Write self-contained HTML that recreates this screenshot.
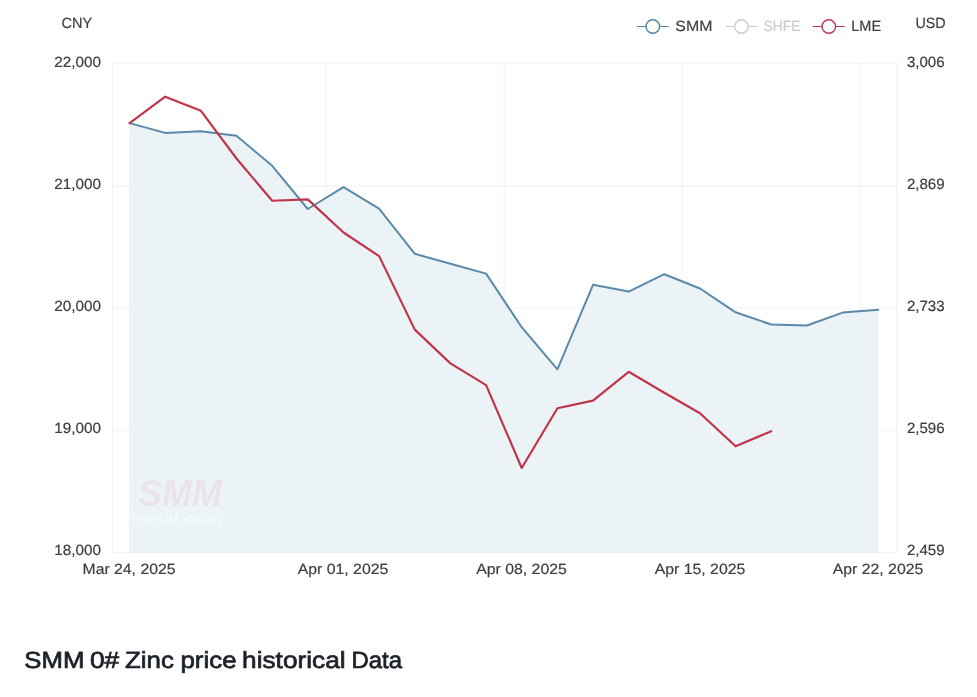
<!DOCTYPE html>
<html lang="en"><head><meta charset="utf-8"><title>SMM 0# Zinc price historical Data</title>
<style>
html,body{margin:0;padding:0;background:#fff;}
body{width:977px;height:697px;overflow:hidden;font-family:"Liberation Sans",sans-serif;}
svg{display:block;position:absolute;left:0;top:0;}
.t{font-family:"Liberation Sans",sans-serif;font-size:14.8px;fill:#3f3f3f;stroke:#3f3f3f;stroke-width:0.2px;text-rendering:geometricPrecision;}
.h{font-family:"Liberation Sans",sans-serif;font-size:23.3px;fill:#1d2129;stroke:#1d2129;stroke-width:0.7px;text-rendering:geometricPrecision;}
</style></head><body>
<svg width="977" height="697" viewBox="0 0 977 697">
<rect x="0" y="0" width="977" height="697" fill="#ffffff"/>
<g stroke="#000000" stroke-opacity="0.045" stroke-width="1.2" fill="none">
<line x1="112.5" y1="63.2" x2="896.9" y2="63.2"/>
<line x1="112.5" y1="186.2" x2="896.9" y2="186.2"/>
<line x1="112.5" y1="308.0" x2="896.9" y2="308.0"/>
<line x1="112.5" y1="430.5" x2="896.9" y2="430.5"/>
<line x1="112.5" y1="552.3" x2="896.9" y2="552.3"/>
<line x1="325.9" y1="63.0" x2="325.9" y2="552.0"/>
<line x1="504.1" y1="63.0" x2="504.1" y2="552.0"/>
<line x1="682.3" y1="63.0" x2="682.3" y2="552.0"/>
<line x1="860.5" y1="63.0" x2="860.5" y2="552.0"/>
</g>
<g stroke="#000000" stroke-opacity="0.06" stroke-width="1.2" fill="none">
<line x1="112.5" y1="63.0" x2="112.5" y2="552.0"/>
<line x1="896.9" y1="63.0" x2="896.9" y2="552.0"/>
</g>
<polygon fill="#e6f0f4" fill-opacity="0.8" points="129.2,553.2 129.2,123.1 129.6,123.1 165.2,132.9 200.9,131.3 236.5,135.8 272.2,165.8 307.8,209.0 343.5,187.1 379.1,208.6 414.8,253.8 450.4,263.8 486.1,273.6 521.7,327.2 557.4,369.3 593.0,284.8 628.7,291.6 664.3,274.2 700.0,288.5 735.6,312.3 771.3,324.5 806.9,325.5 842.6,312.6 878.2,309.7 878.5,309.7 878.5,553.2"/>
<g opacity="0.055">
<text x="138" y="506" textLength="84" lengthAdjust="spacingAndGlyphs" style="font-family:'Liberation Sans',sans-serif;font-size:37px;font-weight:bold;font-style:italic;fill:#e60012;">SMM</text>
</g>
<g opacity="0.35">
<text x="131" y="525" textLength="91" lengthAdjust="spacingAndGlyphs" style="font-family:'Liberation Sans',sans-serif;font-size:19px;font-weight:bold;fill:#ffffff;">metal.com</text>
</g>
<polyline fill="none" stroke="#5a8aaa" stroke-width="2" stroke-linejoin="round" stroke-linecap="round" points="129.6,123.1 165.2,132.9 200.9,131.3 236.5,135.8 272.2,165.8 307.8,209.0 343.5,187.1 379.1,208.6 414.8,253.8 450.4,263.8 486.1,273.6 521.7,327.2 557.4,369.3 593.0,284.8 628.7,291.6 664.3,274.2 700.0,288.5 735.6,312.3 771.3,324.5 806.9,325.5 842.6,312.6 878.2,309.7"/>
<polyline fill="none" stroke="#c2334a" stroke-width="2.15" stroke-linejoin="round" stroke-linecap="round" points="129.6,123.1 165.2,96.7 200.9,110.8 236.5,158.5 272.2,200.8 307.8,199.4 343.5,232.5 379.1,256.1 414.8,329.6 450.4,363.4 486.1,385.1 521.7,468.0 557.4,408.3 593.0,400.6 628.7,371.8 664.3,392.8 700.0,413.3 735.6,446.3 771.3,431.2"/>
<text class="t" x="54.3" y="67" text-anchor="start" textLength="46.8" lengthAdjust="spacingAndGlyphs">22,000</text>
<text class="t" x="54.3" y="189" text-anchor="start" textLength="46.8" lengthAdjust="spacingAndGlyphs">21,000</text>
<text class="t" x="54.3" y="311" text-anchor="start" textLength="46.8" lengthAdjust="spacingAndGlyphs">20,000</text>
<text class="t" x="54.3" y="433" text-anchor="start" textLength="46.8" lengthAdjust="spacingAndGlyphs">19,000</text>
<text class="t" x="54.3" y="555" text-anchor="start" textLength="46.8" lengthAdjust="spacingAndGlyphs">18,000</text>
<text class="t" x="906.9" y="67" text-anchor="start" textLength="37.7" lengthAdjust="spacingAndGlyphs">3,006</text>
<text class="t" x="906.9" y="189" text-anchor="start" textLength="37.7" lengthAdjust="spacingAndGlyphs">2,869</text>
<text class="t" x="906.9" y="311" text-anchor="start" textLength="37.7" lengthAdjust="spacingAndGlyphs">2,733</text>
<text class="t" x="906.9" y="433" text-anchor="start" textLength="37.7" lengthAdjust="spacingAndGlyphs">2,596</text>
<text class="t" x="906.9" y="555" text-anchor="start" textLength="37.7" lengthAdjust="spacingAndGlyphs">2,459</text>
<text class="t" x="61.4" y="28.2" text-anchor="start" textLength="30.7" lengthAdjust="spacingAndGlyphs">CNY</text>
<text class="t" x="915.4" y="27.8" text-anchor="start" textLength="30.3" lengthAdjust="spacingAndGlyphs">USD</text>
<text class="t" x="82.5" y="574.0" text-anchor="start" textLength="93" lengthAdjust="spacingAndGlyphs">Mar 24, 2025</text>
<text class="t" x="297.7" y="574.0" text-anchor="start" textLength="90.6" lengthAdjust="spacingAndGlyphs">Apr 01, 2025</text>
<text class="t" x="476.2" y="574.0" text-anchor="start" textLength="90.6" lengthAdjust="spacingAndGlyphs">Apr 08, 2025</text>
<text class="t" x="654.7" y="574.0" text-anchor="start" textLength="90.6" lengthAdjust="spacingAndGlyphs">Apr 15, 2025</text>
<text class="t" x="832.7" y="574.0" text-anchor="start" textLength="90.6" lengthAdjust="spacingAndGlyphs">Apr 22, 2025</text>
<line x1="636.8" y1="26.5" x2="668.8" y2="26.5" stroke="#5585a6" stroke-width="1.1"/>
<circle cx="652.8" cy="26.5" r="6.8" fill="#ffffff" stroke="#5585a6" stroke-width="1.4"/>
<text class="t" x="675.3" y="31" text-anchor="start" textLength="37.1" lengthAdjust="spacingAndGlyphs" style="fill:#3f3f3f;stroke:#3f3f3f">SMM</text>
<line x1="725.5" y1="26.5" x2="757.5" y2="26.5" stroke="#cccccc" stroke-width="1.1"/>
<circle cx="741.5" cy="26.5" r="6.8" fill="#ffffff" stroke="#cccccc" stroke-width="1.4"/>
<text class="t" x="763.7" y="31" text-anchor="start" textLength="36.7" lengthAdjust="spacingAndGlyphs" style="fill:#cccccc;stroke:#cccccc">SHFE</text>
<line x1="812.8" y1="26.5" x2="844.8" y2="26.5" stroke="#c2334a" stroke-width="1.1"/>
<circle cx="828.8" cy="26.5" r="6.8" fill="#ffffff" stroke="#c2334a" stroke-width="1.4"/>
<text class="t" x="851.3" y="31" text-anchor="start" textLength="29.8" lengthAdjust="spacingAndGlyphs" style="fill:#3f3f3f;stroke:#3f3f3f">LME</text>
<text class="h" y="668"><tspan x="24.30" textLength="60.10" lengthAdjust="spacingAndGlyphs">SMM</tspan> <tspan x="89.98" textLength="29.32" lengthAdjust="spacingAndGlyphs">0#</tspan> <tspan x="124.98" textLength="48.88" lengthAdjust="spacingAndGlyphs">Zinc</tspan> <tspan x="180.46" textLength="56.08" lengthAdjust="spacingAndGlyphs">price</tspan> <tspan x="242.12" textLength="103.44" lengthAdjust="spacingAndGlyphs">historical</tspan> <tspan x="351.46" textLength="50.68" lengthAdjust="spacingAndGlyphs">Data</tspan></text>
</svg>
</body></html>
